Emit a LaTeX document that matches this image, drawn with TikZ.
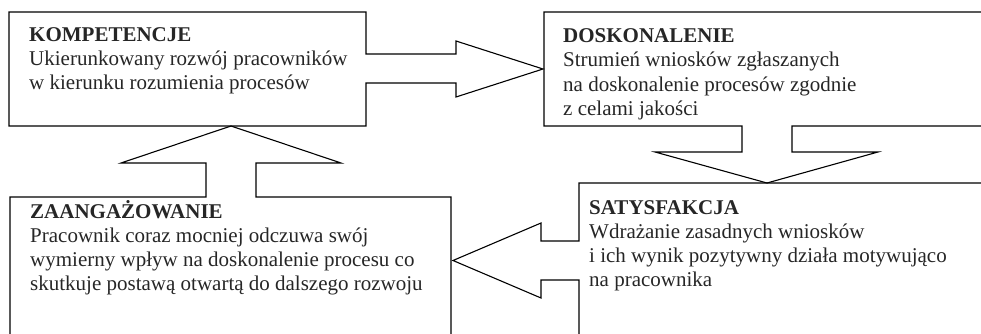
\documentclass[tikz,border=0pt]{standalone}
\usepackage{fontspec}
\setmainfont{Liberation Serif}
\begin{document}
\begin{tikzpicture}[x=1pt,y=-1pt,
  outline/.style={draw=black,line width=1.1pt,line join=miter},
  txt/.style={anchor=base west,inner sep=0pt,align=left,text=black!85,
    font=\fontsize{21}{24}\selectfont}]
\useasboundingbox (0,0) rectangle (981,334);
\clip (0,0) rectangle (981,334);
% KOMPETENCJE box with right arrow
\draw[outline] (9,12) -- (366,12) -- (366,54) -- (456,54) -- (456,41) -- (543,69)
  -- (456,97) -- (456,83) -- (366,83) -- (366,126) -- (9,126) -- cycle;
% DOSKONALENIE box with down arrow
\draw[outline] (1000,126) -- (792,126) -- (792,152) -- (878,152) -- (767,183)
  -- (655,152) -- (742,152) -- (742,126) -- (544,126) -- (544,12) -- (1000,12);
% SATYSFAKCJA box with left arrow
\draw[outline] (1000,183) -- (579,183) -- (579,241) -- (541,241) -- (541,223)
  -- (453,260.5) -- (541,298) -- (541,280) -- (579,280) -- (579,350);
% ZAANGAZOWANIE box with up arrow
\draw[outline] (10,350) -- (10,197) -- (206,197) -- (206,163) -- (121,163)
  -- (231,126) -- (341,163) -- (256,163) -- (256,197) -- (451,197) -- (451,350);
% texts (anchored at the baseline of the last line)
\node[txt] (k) at (29,90) {\textbf{KOMPETENCJE}\\Ukierunkowany rozwój pracowników\\w kierunku rozumienia procesów};
\node[txt] (d) at (563,115) {\textbf{DOSKONALENIE}\\Strumień wniosków zgłaszanych\\na doskonalenie procesów zgodnie\\z celami jakości};
\node[txt] (s) at (589,286.5) {\textbf{SATYSFAKCJA}\\Wdrażanie zasadnych wniosków\\i ich wynik pozytywny działa motywująco\\na pracownika};
\node[txt] (z) at (30,290.5) {\textbf{ZAANGAŻOWANIE}\\Pracownik coraz mocniej odczuwa swój\\wymierny wpływ na doskonalenie procesu co\\skutkuje postawą otwartą do dalszego rozwoju};
\end{tikzpicture}
\end{document}
